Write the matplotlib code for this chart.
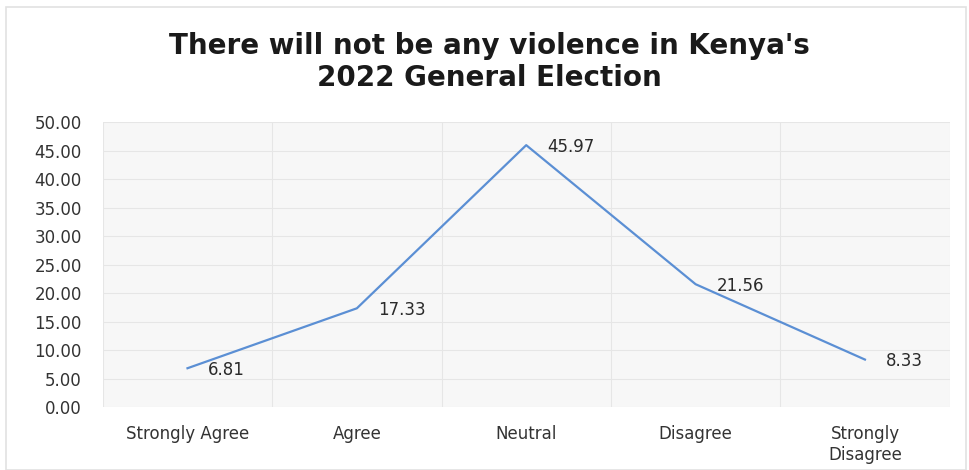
import matplotlib.pyplot as plt
from matplotlib.patches import Rectangle

categories = ['Strongly Agree', 'Agree', 'Neutral', 'Disagree', 'Strongly\nDisagree']
values = [6.81, 17.33, 45.97, 21.56, 8.33]
yticks = [0, 5, 10, 15, 20, 25, 30, 35, 40, 45, 50]

fig = plt.figure(figsize=(9.7, 4.7), dpi=100)
fig.patch.set_facecolor('white')
fig.patches.append(Rectangle((0.006, 0.0), 0.99, 0.985, transform=fig.transFigure,
                             fill=False, edgecolor='#e2e2e2', lw=1.2))

ax = fig.add_axes([0.106, 0.134, 0.873, 0.606])
ax.set_facecolor('#f7f7f7')

x = list(range(len(categories)))
ax.plot(x, values, color='#5b8fd4', lw=1.6)
for xi, v in zip(x, values):
    ax.annotate(f'{v:.2f}', (xi, v), xytext=(15, -1), textcoords='offset points',
                fontsize=12, color='#2a2a2a', va='center', ha='left')

ax.set_xlim(-0.5, len(categories) - 0.5)
ax.set_ylim(0, 50)
ax.set_yticks(yticks)
ax.set_yticklabels([f'{t:.2f}' for t in yticks])
ax.set_xticks(x)
ax.set_xticklabels(categories)
ax.tick_params(axis='both', length=0, labelsize=12, colors='#333333')
ax.tick_params(axis='x', pad=13)
ax.tick_params(axis='y', pad=15)

# faint grid: horizontal per tick, vertical at category boundaries
for t in yticks:
    ax.axhline(t, color='#e6e6e6', lw=0.8, zorder=0)
for b in [i + 0.5 for i in range(-1, len(categories))]:
    ax.axvline(b, color='#e6e6e6', lw=0.8, zorder=0)
for s in ax.spines.values():
    s.set_visible(False)

fig.text(0.505, 0.868, "There will not be any violence in Kenya's\n2022 General Election",
         ha='center', va='center', fontsize=20, fontweight='bold', color='#1a1a1a',
         linespacing=1.2)

fig.savefig('out.png', dpi=100)
